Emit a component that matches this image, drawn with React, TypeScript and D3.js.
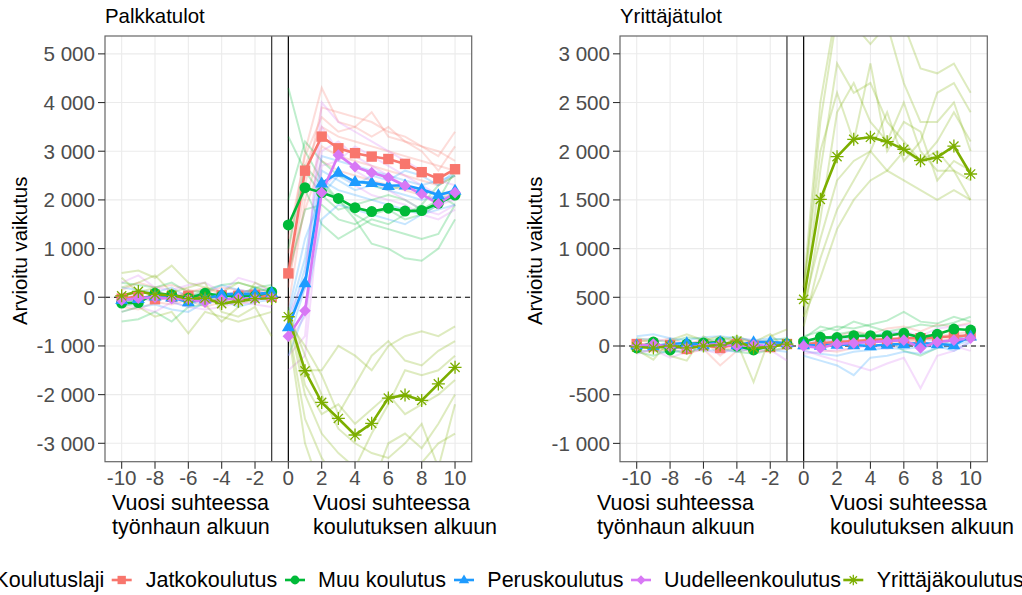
import React from "react";
import * as d3 from "d3";

// ---------- DATA ----------
const seriesNames = ["Jatkokoulutus", "Muu koulutus", "Peruskoulutus", "Uudelleenkoulutus", "Yrittäjäkoulutus"];
const seriesColors = ["#F8766D", "#00BA38", "#1E9BFF", "#D878F5", "#7CAE00"];
const seriesShapes = ["square", "circle", "triangle", "diamond", "asterisk"];
const preYears = [-10, -9, -8, -7, -6, -5, -4, -3, -2, -1];
const postYears = [0, 1, 2, 3, 4, 5, 6, 7, 8, 9, 10];
const vLines = [-1, 0];

const palkkaTicks = [-3000, -2000, -1000, 0, 1000, 2000, 3000, 4000, 5000];
const yrittajaTicks = [-1000, -500, 0, 500, 1000, 1500, 2000, 2500, 3000];
const xTicks = [-10, -8, -6, -4, -2, 0, 2, 4, 6, 8, 10];

// Palkkatulot main series
const palkkaPre = [
  [-30, 20, -40, 10, 30, -20, 40, 30, 50, 10],
  [-120, -110, 80, 50, -20, 80, 30, 20, 30, 110],
  [-50, -30, 20, 0, -100, -40, 60, 70, 70, 90],
  [-60, -20, 0, -30, -40, -100, -50, -20, -30, -10],
  [30, 120, 60, 40, -30, -20, -130, -80, -30, -20],
];
const palkkaPost = [
  [490, 2600, 3300, 3060, 2960, 2890, 2840, 2740, 2570, 2440, 2630],
  [1485, 2250, 2150, 2030, 1840, 1760, 1830, 1770, 1780, 1930, 2100],
  [-610, 290, 2340, 2560, 2370, 2350, 2290, 2300, 2220, 2100, 2190],
  [-800, -275, 2150, 2920, 2680, 2560, 2460, 2290, 2120, 1920, 2150],
  [-400, -1510, -2160, -2490, -2830, -2590, -2070, -2010, -2120, -1780, -1440],
];
// Palkkatulot faint subgroup lines
const palkkaFaintPre = [
  [[150, 300, 200, 250, 150, 100, 200, 150, 100, 50], [-200, -250, -100, -150, -50, -200, -100, -150, -50, 0], [50, -100, 150, 0, 100, 200, 50, 100, 150, 100]],
  [[-500, -450, -300, -500, -200, -150, 0, -100, -50, 100], [300, 250, 200, 300, 100, 150, 250, 300, 200, 250], [-200, -100, 100, -50, 0, 150, -100, 50, 200, 100]],
  [[-300, -200, -150, -250, -300, -100, -50, -200, -100, -50], [200, 150, 100, 200, 0, 100, 250, 150, 100, 200], [0, -100, 50, -100, -200, 0, 100, 0, -50, 50]],
  [[300, 450, 200, 150, 250, 300, 100, 400, 300, 100], [-150, -200, -300, -100, -200, -250, -200, -100, -150, -200], [100, 0, -100, 50, 100, -50, 0, 150, 100, -100]],
  [[500, 550, 400, 650, 300, 200, 100, 300, 200, 100], [-300, -200, -400, -300, -740, -300, -400, -500, -400, -300], [200, 300, 450, 100, 200, 300, -300, -400, -200, -800], [400, 100, 200, -100, 150, -150, -500, -200, 300, 150]],
];
const palkkaFaintPost = [
  [
    [900, 3000, 4300, 3600, 3500, 3300, 3500, 3200, 3100, 2900, 3400],
    [200, 2300, 3900, 3800, 3700, 3600, 3400, 3300, 3100, 3000, 2800],
    [600, 2700, 3500, 3300, 3200, 3100, 3000, 2900, 2800, 2700, 2600],
    [-200, 2000, 3100, 2900, 2800, 2700, 2600, 2500, 2400, 2300, 2500],
    [1200, 2900, 3700, 3400, 3500, 3800, 3300, 3200, 3000, 2600, 3100],
    [400, 1800, 2800, 2600, 2500, 2400, 2300, 2200, 2100, 2000, 2200],
  ],
  [
    [4300, 3000, 2400, 2000, 1700, 1500, 1400, 1300, 1200, 1300, 1900],
    [1000, 2700, 2300, 2000, 1600, 1100, 1000, 800, 750, 1000, 1600],
    [2000, 3200, 2800, 2500, 2400, 2300, 2200, 2300, 2200, 2100, 1900],
    [500, 1800, 1900, 1600, 1500, 1700, 1800, 1600, 1700, 1900, 2200],
    [1500, 2200, 1500, 1200, 1400, 1600, 1500, 1700, 1900, 2300, 2500],
    [3300, 2600, 2100, 1800, 1900, 2000, 2100, 2000, 1800, 2000, 2600],
  ],
  [
    [-400, 800, 2900, 2800, 2700, 2600, 2500, 2400, 2300, 2400, 2500],
    [-900, 200, 2400, 2200, 2100, 2000, 1900, 1800, 1700, 1800, 1900],
    [-300, 1200, 2100, 2500, 2300, 2500, 2400, 2600, 2500, 2300, 2600],
    [-1200, -300, 1600, 1900, 1800, 1700, 1600, 1500, 1700, 1900, 2100],
    [-600, 600, 2600, 2400, 2200, 2300, 2200, 2100, 2000, 2100, 2000],
  ],
  [
    [-600, 200, 4000, 3600, 3400, 3200, 3000, 2800, 2600, 2400, 2300],
    [-1200, -800, 3000, 3200, 2900, 2700, 2500, 2300, 2100, 1900, 2000],
    [-400, 400, 3500, 3000, 2600, 2400, 2200, 2000, 1800, 1700, 1900],
    [-1500, -1200, 2200, 2600, 2300, 2100, 2000, 1900, 1700, 1600, 1800],
    [-900, -400, 2700, 2800, 3100, 2900, 2700, 2500, 2300, 2100, 2200],
  ],
  [
    [-300, -1500, -1500, -1000, -1200, -1500, -1000, -800, -700, -800, -600],
    [-500, -1000, -1600, -2400, -1800, -1200, -900, -1300, -1400, -1100, -900],
    [-400, -2000, -2800, -3200, -3500, -2800, -2200, -1500, -1600, -1500, -1200],
    [-600, -2500, -3300, -3800, -4200, -3900, -3000, -2800, -3100, -2600, -2000],
    [-200, -1800, -2400, -2200, -2600, -2300, -2000, -2400, -2200, -2000, -1700],
    [-700, -3000, -4000, -4500, -4800, -4600, -4000, -3600, -3400, -3000, -2800],
    [-300, -1200, -2000, -2700, -3000, -3200, -3300, -3000, -2600, -3500, -2200],
  ],
];

// Yrittäjätulot main series
const yrittajaPre = [
  [20, 0, 10, -30, 10, -20, 20, 0, -10, 20],
  [-20, 40, -40, 20, 30, 40, 0, -40, 0, 20],
  [10, 0, 20, 30, 10, 40, 10, 40, 40, 30],
  [0, 20, -10, -20, 10, 20, 0, 10, 0, 10],
  [-10, -20, 0, -20, 0, 10, 50, -20, -10, 20],
];
const yrittajaPost = [
  [20, 30, 40, 50, 60, 70, 80, 80, 90, 100, 110],
  [44, 89, 86, 106, 106, 106, 130, 89, 120, 174, 164],
  [10, 5, 15, 10, 0, 15, 20, 30, 20, 10, 100],
  [0, -20, 20, 30, 40, 50, 60, -20, 40, 60, 80],
  [479, 1506, 1944, 2122, 2143, 2098, 2020, 1903, 1937, 2053, 1766],
];
const yrittajaFaintPre = [
  [[60, 40, 80, 20, 60, -100, 40, 50, 20, 40], [-40, -60, -20, -80, -30, -200, -50, -40, -60, -20]],
  [[-60, -100, -40, -80, 0, -20, -60, -80, -40, -20], [80, 60, 40, 90, 70, 60, 100, 40, 60, 80]],
  [[100, 120, 80, 60, 90, 100, 80, 60, 80, 60], [-60, -40, -80, -20, -50, -40, -60, -20, -40, -60]],
  [[-80, -40, -120, -60, -40, -80, -20, -60, -40, -150], [60, 80, 40, 20, 60, 40, 80, 60, 40, 20]],
  [[-40, -140, 60, 120, 60, 100, 40, -370, 100, 170], [50, 60, -100, -150, 100, 0, 80, 40, 120, -40]],
];
const yrittajaFaintPost = [
  [[50, 80, 100, 150, 120, 180, 200, 150, 220, 200, 240], [-20, 0, 20, 40, 60, 30, 50, 70, 60, 80, 90], [30, -40, -60, -20, 20, 0, 40, 60, 100, 120, 150]],
  [[100, 150, 200, 180, 220, 260, 350, 250, 230, 300, 250], [0, 60, 120, 150, 100, 60, -50, -100, -20, 80, 120], [80, 200, 160, 250, 200, 150, 180, 220, 200, 240, 300]],
  [[-50, -80, -100, -60, -40, -20, -30, -10, 0, -50, 40], [60, 80, 40, 100, 80, 150, 120, 80, 60, 40, 150], [-100, -150, -200, -300, -120, -100, -60, -80, -20, 0, 60]],
  [[-40, -100, -150, -200, -250, -180, -120, -434, -100, -50, 50], [40, 50, 80, 100, 90, 120, 150, 100, 180, 200, 220], [-80, -60, -40, -20, 0, -30, 20, 40, 30, 0, -50]],
  [
    [500, 2300, 3400, 3300, 3100, 3300, 2700, 2300, 2300, 2500, 2000],
    [400, 1800, 2900, 2600, 2700, 2300, 2100, 1900, 2100, 2400, 2100],
    [300, 1300, 2400, 2700, 2300, 2100, 2500, 2000, 1800, 1800, 1500],
    [600, 2000, 2600, 2100, 2900, 2000, 2300, 2200, 1700, 1900, 1800],
    [400, 1100, 1700, 1900, 2000, 1800, 1700, 1600, 1500, 1600, 1500],
    [200, 900, 1400, 1700, 2000, 2400, 1900, 2100, 2600, 2700, 2400],
    [300, 700, 1200, 1500, 1700, 1800, 2000, 1900, 2000, 1800, 1700],
    [600, 2500, 3500, 3400, 3600, 3700, 3300, 2850, 2800, 2900, 2600],
  ],
];

const labelLines = {
  left: ["Vuosi suhteessa", "työnhaun alkuun"],
  right: ["Vuosi suhteessa", "koulutuksen alkuun"],
};

// ---------- LAYOUT ----------
const W = 1022;
const H = 595;
const FONT = "'Liberation Sans', Arial, Helvetica, sans-serif";
const FS_TICK = 20.6;
const FS_TITLE = 20.4;
const FS_LAB = 21.5;

const locale = d3.formatLocale({ decimal: ",", thousands: " ", grouping: [3], currency: ["", "€"], minus: "-" });
const fmt = locale.format(",d");

type PanelSpec = {
  id: string;
  title: string;
  x0: number; x1: number; y0: number; y1: number;
  yDomain: [number, number];
  yTicks: number[];
  pre: number[][]; post: number[][];
  faintPre: number[][][]; faintPost: number[][][];
  yTitleX: number;
  labLeftX: number; labRightX: number;
};

const panels: PanelSpec[] = [
  {
    id: "p1", title: "Palkkatulot", x0: 105, x1: 471.7, y0: 36, y1: 461.7,
    yDomain: [-3378, 5367], yTicks: palkkaTicks,
    pre: palkkaPre, post: palkkaPost, faintPre: palkkaFaintPre, faintPost: palkkaFaintPost,
    yTitleX: 27, labLeftX: 112, labRightX: 313,
  },
  {
    id: "p2", title: "Yrittäjätulot", x0: 620, x1: 987.3, y0: 36, y1: 461.7,
    yDomain: [-1188, 3183], yTicks: yrittajaTicks,
    pre: yrittajaPre, post: yrittajaPost, faintPre: yrittajaFaintPre, faintPost: yrittajaFaintPost,
    yTitleX: 542, labLeftX: 597, labRightX: 830,
  },
];

function Marker({ shape, x, y, color, s = 1 }: { shape: string; x: number; y: number; color: string; s?: number }) {
  if (shape === "square") {
    const h = 5.2 * s;
    return <rect x={x - h} y={y - h} width={2 * h} height={2 * h} fill={color} />;
  }
  if (shape === "circle") return <circle cx={x} cy={y} r={5.5 * s} fill={color} />;
  if (shape === "triangle") {
    const r = 6.8 * s;
    return <path d={`M${x},${y - r}L${x + r * 0.95},${y + r * 0.62}L${x - r * 0.95},${y + r * 0.62}Z`} fill={color} />;
  }
  if (shape === "diamond") {
    const r = 5.8 * s;
    return <path d={`M${x},${y - r}L${x + r},${y}L${x},${y + r}L${x - r},${y}Z`} fill={color} />;
  }
  const r = 6.5 * s;
  const d2 = r * 0.7071;
  return (
    <path
      d={`M${x - r},${y}L${x + r},${y}M${x},${y - r}L${x},${y + r}M${x - d2},${y - d2}L${x + d2},${y + d2}M${x - d2},${y + d2}L${x + d2},${y - d2}`}
      stroke={color}
      strokeWidth={1.3}
      fill="none"
    />
  );
}

function Panel({ p }: { p: PanelSpec }) {
  const x = d3.scaleLinear().domain([-11, 11]).range([p.x0, p.x1]);
  const y = d3.scaleLinear().domain(p.yDomain).range([p.y1, p.y0]);
  const line = (years: number[]) =>
    d3.line<number>().x((_, i) => x(years[i])).y((v) => y(v));
  const preLine = line(preYears);
  const postLine = line(postYears);
  const clipId = `clip-${p.id}`;
  return (
    <g>
      <defs>
        <clipPath id={clipId}>
          <rect x={p.x0} y={p.y0} width={p.x1 - p.x0} height={p.y1 - p.y0} />
        </clipPath>
      </defs>
      <rect x={p.x0} y={p.y0} width={p.x1 - p.x0} height={p.y1 - p.y0} fill="#fff" />
      {p.yTicks.map((t) => (
        <line key={"gy" + t} x1={p.x0} x2={p.x1} y1={y(t)} y2={y(t)} stroke="#EBEBEB" strokeWidth={1.1} />
      ))}
      {xTicks.map((t) => (
        <line key={"gx" + t} x1={x(t)} x2={x(t)} y1={p.y0} y2={p.y1} stroke="#EBEBEB" strokeWidth={1.1} />
      ))}
      <g clipPath={`url(#${clipId})`}>
        <line x1={p.x0} x2={p.x1} y1={y(0)} y2={y(0)} stroke="#000" strokeWidth={1.1} strokeDasharray="5,4" />
        {vLines.map((v, i) => (
          <line key={"v" + v} x1={x(v)} x2={x(v)} y1={p.y0} y2={p.y1} stroke={i === 0 ? "#333" : "#000"} strokeWidth={1.2} />
        ))}
        {seriesNames.map((_, si) => (
          <g key={"f" + si} stroke={seriesColors[si]} strokeOpacity={0.25} strokeWidth={2} fill="none">
            {p.faintPre[si].map((arr, k) => <path key={"fp" + k} d={preLine(arr) || ""} />)}
            {p.faintPost[si].map((arr, k) => <path key={"fq" + k} d={postLine(arr) || ""} />)}
          </g>
        ))}
        {seriesNames.map((_, si) => (
          <g key={"m" + si} stroke={seriesColors[si]} strokeWidth={2.6} fill="none">
            <path d={preLine(p.pre[si]) || ""} />
            <path d={postLine(p.post[si]) || ""} />
          </g>
        ))}
        {seriesNames.map((_, si) => (
          <g key={"pt" + si}>
            {p.pre[si].map((v, i) => (
              <Marker key={"a" + i} shape={seriesShapes[si]} x={x(preYears[i])} y={y(v)} color={seriesColors[si]} />
            ))}
            {p.post[si].map((v, i) => (
              <Marker key={"b" + i} shape={seriesShapes[si]} x={x(postYears[i])} y={y(v)} color={seriesColors[si]} />
            ))}
          </g>
        ))}
      </g>
      <rect x={p.x0} y={p.y0} width={p.x1 - p.x0} height={p.y1 - p.y0} fill="none" stroke="#666" strokeWidth={1.2} />
      {p.yTicks.map((t) => (
        <g key={"ty" + t}>
          <line x1={p.x0 - 7} x2={p.x0} y1={y(t)} y2={y(t)} stroke="#333" strokeWidth={1.1} />
          <text x={p.x0 - 10} y={y(t)} dy="0.36em" textAnchor="end" fontSize={FS_TICK} fill="#4D4D4D" fontFamily={FONT}>
            {fmt(t)}
          </text>
        </g>
      ))}
      {xTicks.map((t) => (
        <g key={"tx" + t}>
          <line x1={x(t)} x2={x(t)} y1={p.y1} y2={p.y1 + 7} stroke="#333" strokeWidth={1.1} />
          <text x={x(t)} y={p.y1 + 23} textAnchor="middle" fontSize={FS_TICK} fill="#4D4D4D" fontFamily={FONT}>
            {fmt(t)}
          </text>
        </g>
      ))}
      {labelLines.left.map((s, i) => (
        <text key={"ll" + i} x={p.labLeftX} y={510 + i * 23.5} fontSize={FS_LAB} fill="#000" fontFamily={FONT}>{s}</text>
      ))}
      {labelLines.right.map((s, i) => (
        <text key={"lr" + i} x={p.labRightX} y={510 + i * 23.5} fontSize={FS_LAB} fill="#000" fontFamily={FONT}>{s}</text>
      ))}
      <text x={p.x0} y={22.5} fontSize={FS_TITLE} fill="#000" fontFamily={FONT}>{p.title}</text>
      <text
        transform={`translate(${p.yTitleX},${(p.y0 + p.y1) / 2 + 2}) rotate(-90)`}
        textAnchor="middle"
        fontSize={FS_TITLE}
        fill="#000"
        fontFamily={FONT}
      >
        Arvioitu vaikutus
      </text>
    </g>
  );
}

const legendKeyX = [111.7, 285, 454, 631, 843.3];
const legendTextX = [145.7, 318, 487.3, 664, 876.7];

export default function App() {
  return (
    <svg width={W} height={H} style={{ position: "absolute", left: 0, top: 0, background: "#fff" }} fontFamily={FONT}>
      <rect x={0} y={0} width={W} height={H} fill="#fff" />
      {panels.map((p) => <Panel key={p.id} p={p} />)}
      <g>
        <text x={104.3} y={587} textAnchor="end" fontSize={FS_LAB} fill="#000" fontFamily={FONT}>Koulutuslaji</text>
        {seriesNames.map((name, i) => (
          <g key={name}>
            <line x1={legendKeyX[i]} x2={legendKeyX[i] + 20} y1={580} y2={580} stroke={seriesColors[i]} strokeWidth={2.6} />
            <Marker shape={seriesShapes[i]} x={legendKeyX[i] + 10} y={580} color={seriesColors[i]} s={0.8} />
            <text x={legendTextX[i]} y={587} fontSize={FS_LAB} fill="#000" fontFamily={FONT}>{name}</text>
          </g>
        ))}
      </g>
    </svg>
  );
}
